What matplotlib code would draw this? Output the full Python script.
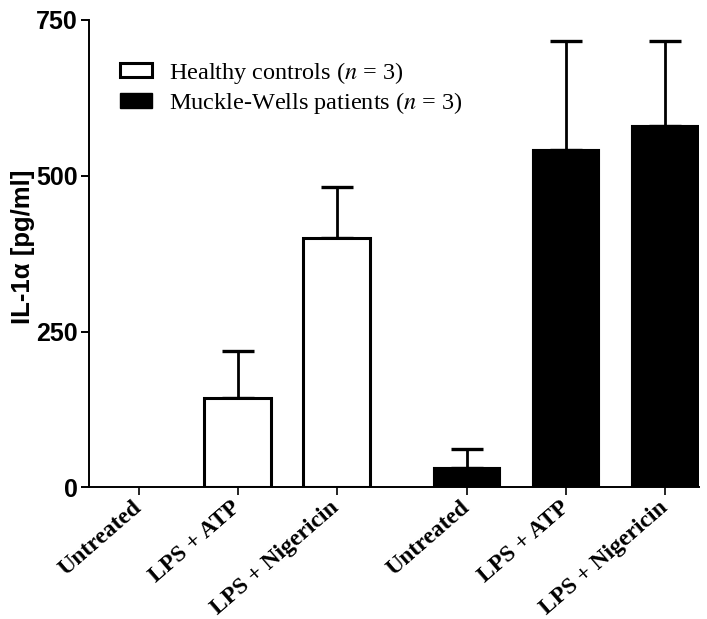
import numpy as np
import matplotlib
matplotlib.use("Agg")
import matplotlib.pyplot as plt
from matplotlib.patches import Patch

treatments = ["Untreated", "LPS + ATP", "LPS + Nigericin"]
healthy_mean = [0.0, 142.7, 399.4]
healthy_sem = [0.0, 76.0, 82.6]
mws_mean = [31.5, 542.0, 579.5]
mws_sem = [30.0, 174.0, 136.5]
y_ticks = [0, 250, 500, 750]

serif = ["Liberation Serif", "DejaVu Serif"]
sans = ["Liberation Sans", "DejaVu Sans"]
plt.rcParams["mathtext.fontset"] = "stix"

fig = plt.figure(figsize=(7.07, 6.19), dpi=100)
ax = fig.add_axes([0.1259, 0.2128, 0.8628, 0.7549])

x_h = np.arange(3)
x_m = np.arange(3) + 3.32
width = 0.67

# healthy bars: white with black outline, skip outline for empty bars
lw_h = [0 if v == 0 else 2.2 for v in healthy_mean]
ax.bar(x_h, healthy_mean, width, color="white", edgecolor="black",
       linewidth=lw_h, zorder=2)
ax.bar(x_m, mws_mean, width, color="black", edgecolor="black",
       linewidth=1.5, zorder=2)

# upward-only error bars
for xs, means, sems in [(x_h, healthy_mean, healthy_sem), (x_m, mws_mean, mws_sem)]:
    for xi, m, s in zip(xs, means, sems):
        if s <= 0:
            continue
        ax.errorbar(xi, m, yerr=[[0], [s]], fmt="none", ecolor="black",
                    elinewidth=2.0, capsize=11.5, capthick=2.4, zorder=1)

ax.set_xlim(-0.5, 5.66)
ax.set_ylim(0, 750)
ax.set_yticks(y_ticks)
ax.set_xticks(np.concatenate([x_h, x_m]))
ax.set_xticklabels(treatments + treatments, rotation=41, ha="right",
                   va="center", rotation_mode="anchor", fontfamily=serif,
                   fontweight="bold", fontsize=17)
for lbl in ax.get_yticklabels():
    lbl.set_fontfamily(sans)
    lbl.set_fontweight("bold")
    lbl.set_fontsize(18)

ax.spines["top"].set_visible(False)
ax.spines["right"].set_visible(False)
ax.spines["left"].set_linewidth(1.4)
ax.spines["bottom"].set_linewidth(1.4)
ax.tick_params(axis="y", length=6, width=1.4, pad=2)
ax.tick_params(axis="x", length=5.5, width=1.2, pad=7)

ax.set_ylabel("IL-1\u03b1 [pg/ml]", fontfamily=sans, fontweight="bold",
              fontsize=18.5, labelpad=0)
ax.yaxis.set_label_coords(-0.088, 0.515)

handles = [Patch(facecolor="white", edgecolor="black", linewidth=2.2),
           Patch(facecolor="black", edgecolor="black")]
labels = ["Healthy controls ($\\mathit{n}$ = 3)",
          "Muckle-Wells patients ($\\mathit{n}$ = 3)"]
leg = ax.legend(handles, labels, loc="upper left",
                bbox_to_anchor=(0.051, 0.915), frameon=False,
                prop={"family": serif, "size": 17.5},
                handlelength=1.32, handleheight=0.54, handletextpad=0.7,
                labelspacing=0.18, borderaxespad=0, borderpad=0)

fig.savefig("out.png", dpi=100)
